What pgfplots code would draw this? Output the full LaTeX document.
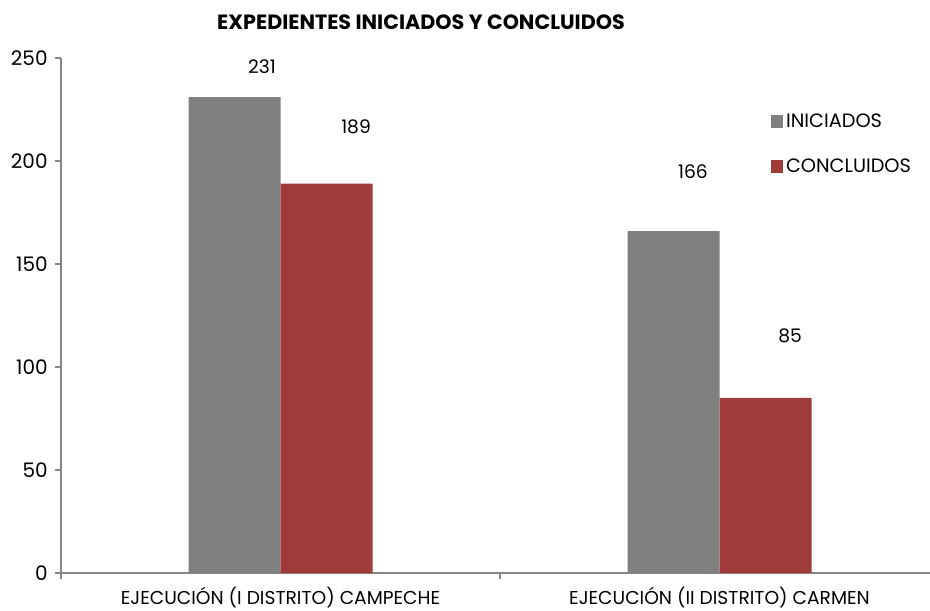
\documentclass[border=0pt]{standalone}
\usepackage{fontspec}
\setmainfont{Poppins}
\usepackage{pgfplots}
\pgfplotsset{compat=1.18}
\definecolor{barGray}{HTML}{808080}
\definecolor{barRed}{HTML}{A13B3A}
\definecolor{axGray}{HTML}{868686}
\begin{document}
\begin{tikzpicture}
\begin{axis}[
  scale only axis,
  width=658.5pt, height=386.25pt,
  xmin=-0.5, xmax=1.5, ymin=0, ymax=250,
  axis lines*=left,
  axis line style={axGray, line width=0.8pt},
  tick align=outside,
  tick style={axGray, line width=0.8pt},
  ytick={0,50,100,150,200,250},
  xtick={0,1},
  xticklabels={EJECUCIÓN (I DISTRITO) CAMPECHE, EJECUCIÓN (II DISTRITO) CARMEN},
  major x tick style={draw=none},
  minor xtick={-0.5,0.5,1.5},
  minor tick length=4.5pt,
  major tick length=4.5pt,
  xticklabel style={font=\fontsize{14}{16}\selectfont, yshift=-2.5pt},
  yticklabel style={font=\fontsize{15}{17}\selectfont, xshift=-2pt},
  /pgf/number format/assume math mode=true,
  clip=false,
  legend style={draw=none, fill=none, at={(axis description cs:0.808,0.897)}, anchor=north west,
    font=\fontsize{14.5}{16}\selectfont, row sep=18pt, inner sep=0pt,
    /tikz/every even column/.append style={column sep=1pt}},
  legend cell align=left,
]
\addplot[ybar, bar width=69pt, bar shift=-34.5pt, fill=barGray, draw=none,
  area legend, legend image code/.code={\fill[barGray] (0pt,-4.5pt) rectangle (9.5pt,5pt);}]
  coordinates {(0,231) (1,166)};
\addlegendentry{INICIADOS}
\addplot[ybar, bar width=69pt, bar shift=34.5pt, fill=barRed, draw=none,
  area legend, legend image code/.code={\fill[barRed] (0pt,-4.5pt) rectangle (9.5pt,5pt);}]
  coordinates {(0,189) (1,85)};
\addlegendentry{CONCLUIDOS}
\addplot[draw=none, mark=none, forget plot, nodes near coords, point meta=explicit symbolic,
  every node near coord/.append style={anchor=center, font=\fontsize{14}{16}\selectfont}]
  coordinates {(-0.042,246)[231] (0.172,216.5)[189] (0.9396,194.7)[166] (1.1606,115)[85]};
\end{axis}
\node[font=\fontsize{15.5}{18}\selectfont\bfseries] at (270pt,413.25pt) {EXPEDIENTES INICIADOS Y CONCLUIDOS};
\pgfresetboundingbox
\path[use as bounding box] (-45.75pt,-27.75pt) rectangle (651.75pt,429.75pt);
\end{tikzpicture}
\end{document}
